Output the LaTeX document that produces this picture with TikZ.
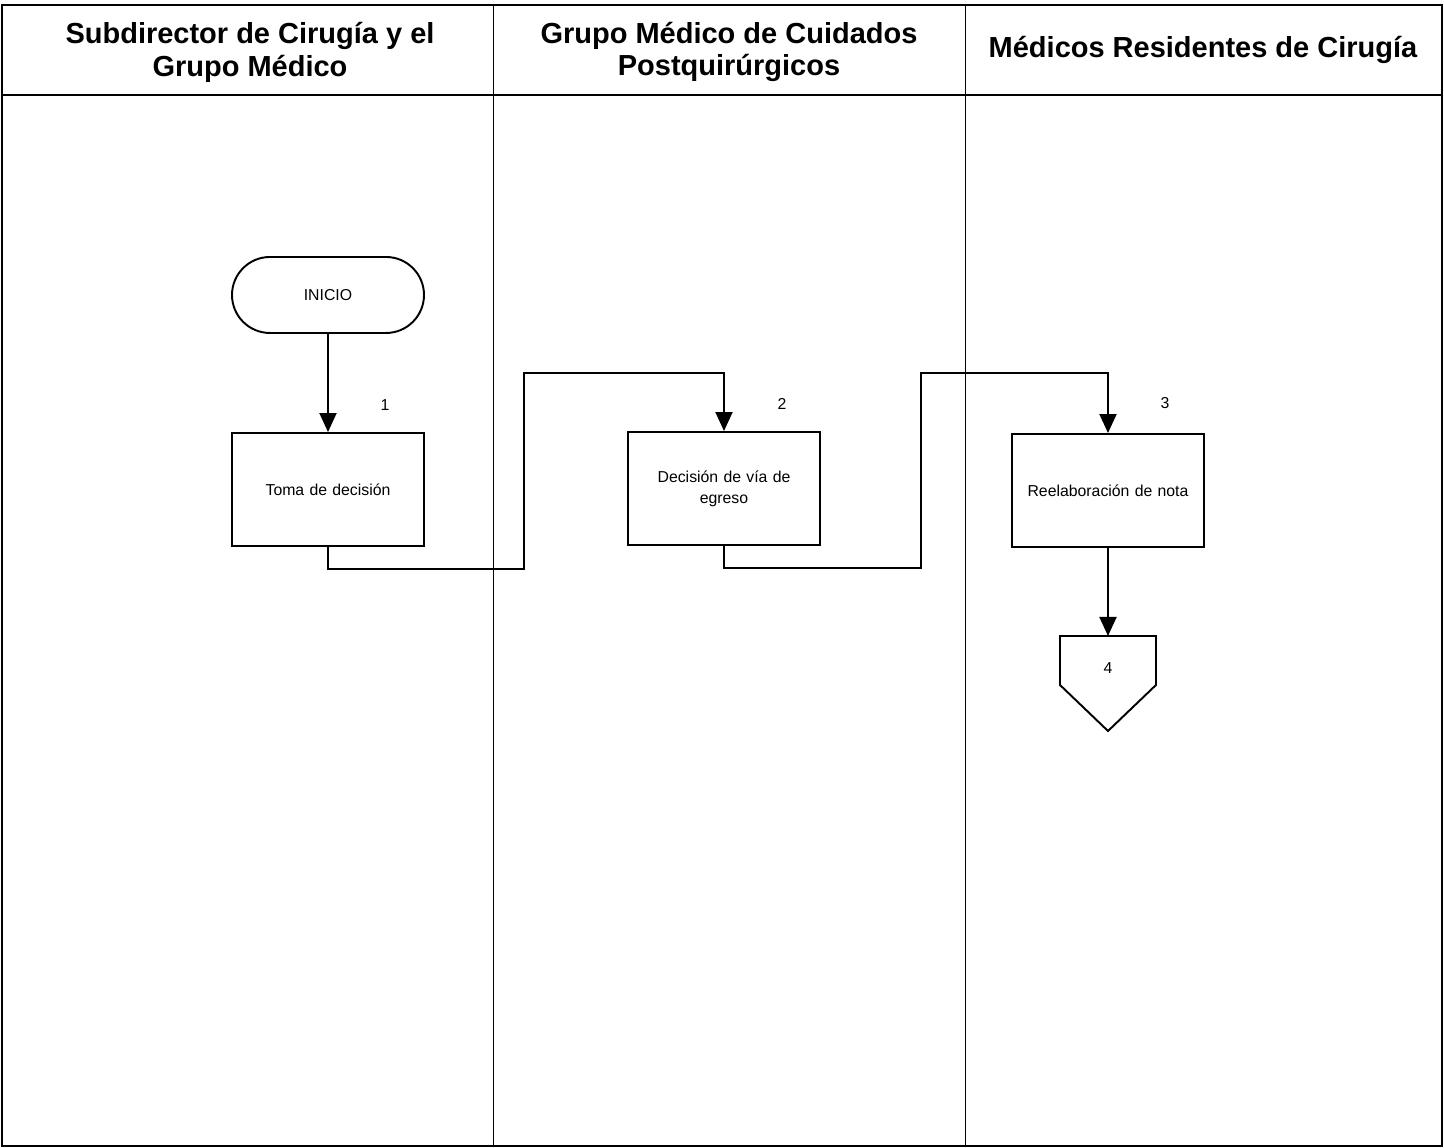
\documentclass[tikz,border=0pt]{standalone}
\usepackage{fontspec}
\setmainfont{Liberation Sans}
\usetikzlibrary{arrows.meta, positioning}

\begin{document}
\begin{tikzpicture}[
	>={Triangle[length=3.8mm, width=3.4mm]},
	% Styles
	lane/.style={draw=black, line width=0.5pt},
	frame/.style={draw=black, line width=1pt},
	header/.style={font=\bfseries\fontsize{16.5}{18.7}\selectfont, align=center, text=black},
	process/.style={draw=black, line width=1.1pt, fill=white, minimum width=3.84cm, minimum height=2.26cm, align=center, text width=3.6cm, font=\fontsize{9}{12}\selectfont},
	terminal/.style={draw=black, line width=1.1pt, fill=white, rounded corners=7.6mm, minimum width=3.84cm, minimum height=1.52cm, font=\fontsize{9}{12}\selectfont},
	stepnum/.style={font=\fontsize{9}{12}\selectfont},
	flow/.style={->, line width=1.1pt}
	]
	
	\useasboundingbox (0, 0) rectangle (28.88, 22.96);
	
	% ==========================================
	% Swimlanes
	% ==========================================
	\draw[frame] (0.04, 0.04) rectangle (28.84, 22.86);
	\draw[frame] (0.04, 21.06) -- (28.84, 21.06);
	\draw[lane] (9.86, 0.04) -- (9.86, 22.86);
	\draw[lane] (19.3, 0.04) -- (19.3, 22.86);
	
	\node[header] (laneA) at (5.0, 21.92) {Subdirector de Cirugía y el\\Grupo Médico};
	\node[header] (laneB) at (14.58, 21.92) {Grupo Médico de Cuidados\\Postquirúrgicos};
	\node[header] (laneC) at (24.06, 21.96) {Médicos Residentes de Cirugía};
	
	% ==========================================
	% Steps
	% ==========================================
	\node[terminal] (inicio) at (6.56, 17.06) {INICIO};
	
	\node[process] (toma) at (6.56, 13.17) {Toma de decisión};
	\node[stepnum] (num1) at (7.7, 14.86) {1};
	
	\node[process] (via) at (14.48, 13.19) {Decisión de vía de\\egreso};
	\node[stepnum] (num2) at (15.64, 14.88) {2};
	
	\node[process] (nota) at (22.16, 13.15) {Reelaboración de nota};
	\node[stepnum] (num3) at (23.3, 14.9) {3};
	
	% Off-page connector
	\coordinate (offtop) at (22.16, 10.24);
	\draw[line width=1.1pt, fill=white] (21.2, 10.24) -- (23.12, 10.24) -- (23.12, 9.26) -- (22.16, 8.34) -- (21.2, 9.26) -- cycle;
	\node[stepnum] (num4) at (22.16, 9.6) {4};
	
	% ==========================================
	% Connectors
	% ==========================================
	\coordinate (turnA) at (10.48, 15.5);
	\coordinate (turnB) at (18.42, 15.5);
	
	\draw[flow] (inicio.south) -- (toma.north);
	\draw[flow] (toma.south) -- ++(0, -0.44) -| (turnA) -| (via.north);
	\draw[flow] (via.south) -- ++(0, -0.44) -| (turnB) -| (nota.north);
	\draw[flow] (nota.south) -- (offtop);
	
\end{tikzpicture}
\end{document}
